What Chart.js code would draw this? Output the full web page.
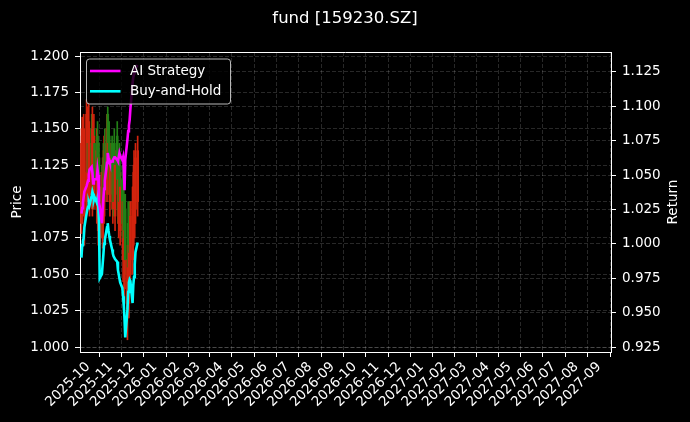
<!DOCTYPE html>
<html>
<head>
<meta charset="utf-8">
<script src="https://cdn.jsdelivr.net/npm/chart.js@4.4.1/dist/chart.umd.min.js"></script>
<style>
  html, body { margin: 0; padding: 0; background: #000; }
  #wrap { width: 690px; height: 422px; }
</style>
</head>
<body>
<div id="wrap"><canvas id="chart" width="690" height="422"></canvas></div>
<script>
// ---- data ----
const dates = [
  '2025-09-22','2025-09-23','2025-09-24','2025-09-25','2025-09-26','2025-09-29','2025-09-30',
  '2025-10-01','2025-10-02','2025-10-03','2025-10-06','2025-10-07','2025-10-08','2025-10-09','2025-10-10',
  '2025-10-13','2025-10-14','2025-10-15','2025-10-16','2025-10-17','2025-10-20','2025-10-21','2025-10-22',
  '2025-10-23','2025-10-24','2025-10-27','2025-10-28','2025-10-29','2025-10-30','2025-10-31',
  '2025-11-03','2025-11-04','2025-11-05','2025-11-06','2025-11-07','2025-11-10','2025-11-11','2025-11-12',
  '2025-11-13','2025-11-14','2025-11-17','2025-11-18','2025-11-19','2025-11-20','2025-11-21',
  '2025-11-24','2025-11-25','2025-11-26','2025-11-27','2025-11-28',
  '2025-12-01','2025-12-02','2025-12-03','2025-12-04','2025-12-05','2025-12-08'
];
const open  = [1.085,1.095,1.100,1.110,1.090,1.100,1.110,1.140,1.100,1.105,1.150,1.095,1.120,1.100,1.140,
               1.095,1.145,1.080,1.130,1.070,1.110,1.075,1.130,1.090,1.140,1.105,1.160,1.115,1.145,1.100,
               1.140,1.095,1.130,1.140,1.090,1.145,1.120,1.085,1.130,1.080,1.115,1.060,1.105,1.040,1.095,
               1.020,1.085,1.030,1.090,1.050,1.060,1.070,1.090,1.085,1.095,1.100];
const high  = [1.150,1.158,1.140,1.160,1.128,1.170,1.165,1.150,1.168,1.150,1.160,1.165,1.135,1.160,1.150,
               1.150,1.155,1.140,1.140,1.120,1.125,1.130,1.140,1.145,1.150,1.160,1.165,1.150,1.155,1.140,
               1.145,1.130,1.140,1.150,1.135,1.155,1.130,1.125,1.140,1.120,1.125,1.110,1.115,1.090,1.105,
               1.070,1.100,1.080,1.100,1.100,1.110,1.120,1.135,1.130,1.140,1.145];
const low   = [1.078,1.085,1.095,1.100,1.070,1.095,1.105,1.110,1.095,1.090,1.115,1.090,1.095,1.095,1.105,
               1.085,1.110,1.070,1.095,1.062,1.075,1.068,1.090,1.085,1.100,1.100,1.115,1.105,1.105,1.090,
               1.095,1.085,1.090,1.100,1.080,1.105,1.085,1.075,1.090,1.070,1.075,1.045,1.065,1.030,1.050,
               1.005,1.045,1.020,1.055,1.040,1.050,1.060,1.080,1.075,1.085,1.090];
const close = [1.140,1.145,1.130,1.150,1.120,1.160,1.150,1.120,1.155,1.140,1.125,1.150,1.105,1.145,1.115,
               1.135,1.120,1.130,1.105,1.110,1.085,1.120,1.100,1.135,1.110,1.150,1.125,1.140,1.115,1.130,
               1.105,1.120,1.100,1.110,1.125,1.115,1.095,1.115,1.100,1.110,1.085,1.100,1.075,1.080,1.060,
               1.060,1.055,1.070,1.065,1.090,1.100,1.110,1.125,1.115,1.130,1.135];
const aiStrategy = [1.022,1.026,1.030,1.034,1.038,1.042,1.044,1.046,1.050,1.054,1.056,1.052,1.044,1.046,1.047,
                    1.047,1.054,1.050,1.030,1.027,1.015,1.025,1.033,1.040,1.046,1.059,1.066,1.063,1.061,1.059,
                    1.060,1.061,1.062,1.063,1.063,1.061,1.060,1.063,1.066,1.064,1.061,1.063,1.055,1.039,1.061,
                    1.076,1.082,1.086,1.090,1.098,1.117,1.121,1.124,1.126,1.128,1.130];
const buyHold    = [0.990,0.999,1.002,1.004,1.012,1.022,1.025,1.027,1.030,1.028,1.035,1.038,1.036,1.032,1.034,
                    1.030,1.033,1.028,1.015,0.975,0.978,0.985,0.992,1.000,1.003,1.012,1.015,1.010,1.006,1.003,
                    0.996,0.993,0.991,0.990,0.989,0.987,0.981,0.978,0.975,0.972,0.968,0.962,0.955,0.945,0.932,
                    0.952,0.965,0.972,0.974,0.973,0.957,0.970,0.976,0.985,0.994,1.001];
const monthLabels = ['2025-10','2025-11','2025-12','2026-01','2026-02','2026-03','2026-04','2026-05',
                     '2026-06','2026-07','2026-08','2026-09','2026-10','2026-11','2026-12','2027-01',
                     '2027-02','2027-03','2027-04','2027-05','2027-06','2027-07','2027-08','2027-09'];
const priceTicks  = [1.000,1.025,1.050,1.075,1.100,1.125,1.150,1.175,1.200];
const returnTicks = [0.925,0.950,0.975,1.000,1.025,1.050,1.075,1.100,1.125];

// dates -> day numbers for the linear x axis
const dayNum = s => Date.UTC(+s.slice(0,4), +s.slice(5,7) - 1, +s.slice(8,10)) / 86400000;
const xs = dates.map(dayNum);

const RED = 'rgb(210,36,14)';
const GREEN = 'rgb(34,128,22)';
const candleColor = c => close[c.dataIndex] >= open[c.dataIndex] ? RED : GREEN;

const FONT = 'DejaVu Sans';
Chart.defaults.font.family = FONT;
Chart.defaults.color = '#fff';

const gridStyle = {
  color: 'rgba(255,255,255,0.2)', lineWidth: 0.8,
  tickColor: '#fff', tickLength: 5, tickWidth: 1, tickBorderDash: []
};
const borderStyle = { color: '#fff', width: 1, dash: [4, 2] };

// spine on top, right-hand axis title, legend box
const decor = {
  id: 'decor',
  afterDraw(chart) {
    const { ctx, chartArea: a } = chart;
    ctx.save();
    ctx.strokeStyle = '#fff';
    ctx.lineWidth = 1;
    ctx.beginPath();
    ctx.moveTo(a.left, a.top + 0.5);
    ctx.lineTo(a.right, a.top + 0.5);
    ctx.stroke();

    ctx.fillStyle = '#fff';
    ctx.font = '13.5px "' + FONT + '"';
    ctx.textAlign = 'center';
    ctx.textBaseline = 'middle';
    ctx.translate(chart.width - 17, (a.top + a.bottom) / 2);
    ctx.rotate(-Math.PI / 2);
    ctx.fillText('Return', 0, 0);
    ctx.restore();

    // legend
    const items = chart.data.datasets.filter(d => d.type === 'line');
    const x0 = a.left + 6.5, y0 = a.top + 7, w = 144, h = 45;
    ctx.save();
    ctx.beginPath();
    ctx.roundRect(x0, y0, w, h, 3);
    ctx.fillStyle = 'rgba(0,0,0,0.8)';
    ctx.fill();
    ctx.strokeStyle = 'rgba(204,204,204,0.9)';
    ctx.lineWidth = 1;
    ctx.stroke();
    ctx.font = '13.5px "' + FONT + '"';
    ctx.textBaseline = 'middle';
    ctx.textAlign = 'left';
    items.forEach((d, i) => {
      const y = y0 + 12 + i * 20.3;
      ctx.strokeStyle = d.borderColor;
      ctx.lineWidth = 2.6;
      ctx.beginPath();
      ctx.moveTo(x0 + 3.5, y);
      ctx.lineTo(x0 + 34, y);
      ctx.stroke();
      ctx.fillStyle = '#fff';
      ctx.fillText(d.label, x0 + 43.5, y + 0.5);
    });
    ctx.restore();
  }
};

new Chart(document.getElementById('chart'), {
  type: 'line',
  data: {
    datasets: [
      {
        type: 'line', label: 'AI Strategy', yAxisID: 'y1', order: 0,
        data: xs.map((x, i) => ({ x, y: aiStrategy[i] })),
        borderColor: '#ff00ff', borderWidth: 2.6, pointRadius: 0, tension: 0
      },
      {
        type: 'line', label: 'Buy-and-Hold', yAxisID: 'y1', order: 1,
        data: xs.map((x, i) => ({ x, y: buyHold[i] })),
        borderColor: '#00ffff', borderWidth: 2.6, pointRadius: 0, tension: 0
      },
      {
        type: 'bar', label: 'body', yAxisID: 'y', order: 2, grouped: false,
        data: xs.map((x, i) => ({ x, y: [Math.min(open[i], close[i]), Math.max(open[i], close[i])] })),
        backgroundColor: candleColor, borderWidth: 0, barThickness: 2
      },
      {
        type: 'bar', label: 'wick', yAxisID: 'y', order: 3, grouped: false,
        data: xs.map((x, i) => ({ x, y: [low[i], high[i]] })),
        backgroundColor: candleColor, borderWidth: 0, barThickness: 1
      }
    ]
  },
  options: {
    responsive: false,
    animation: false,
    events: [],
    layout: { padding: 0 },
    plugins: {
      legend: { display: false },
      tooltip: { enabled: false },
      title: {
        display: true, text: 'fund [159230.SZ]', color: '#fff',
        font: { family: FONT, size: 16.5, weight: 'normal' },
        padding: { top: 8.5, bottom: 23.7 }
      }
    },
    scales: {
      x: {
        type: 'linear', offset: false,
        min: dayNum('2025-10-01') - 11, max: dayNum('2027-09-01') + 16.4,
        afterBuildTicks: s => { s.ticks = monthLabels.map(m => ({ value: dayNum(m + '-01') })); },
        afterFit: s => { s.height = 70; },
        grid: gridStyle, border: borderStyle,
        ticks: {
          autoSkip: false, minRotation: 45, maxRotation: 45, padding: 2,
          font: { size: 13.5 }, color: '#fff',
          callback: (v, i) => monthLabels[i]
        }
      },
      y: {
        position: 'left', min: 0.9966, max: 1.2028,
        afterBuildTicks: s => { s.ticks = priceTicks.map(v => ({ value: v })); },
        afterFit: s => { s.width = 80; },
        grid: gridStyle, border: borderStyle,
        ticks: { padding: 6, font: { size: 13.5 }, color: '#fff', callback: v => v.toFixed(3) },
        title: { display: true, text: 'Price', color: '#fff', font: { size: 13.5 }, padding: { top: 9, bottom: 0 } }
      },
      y1: {
        position: 'right', min: 0.9214, max: 1.1395,
        afterBuildTicks: s => { s.ticks = returnTicks.map(v => ({ value: v })); },
        afterFit: s => { s.width = 79; },
        grid: gridStyle, border: borderStyle,
        ticks: { padding: 6, font: { size: 13.5 }, color: '#fff', callback: v => v.toFixed(3) }
      }
    }
  },
  plugins: [decor]
});
</script>
</body>
</html>
